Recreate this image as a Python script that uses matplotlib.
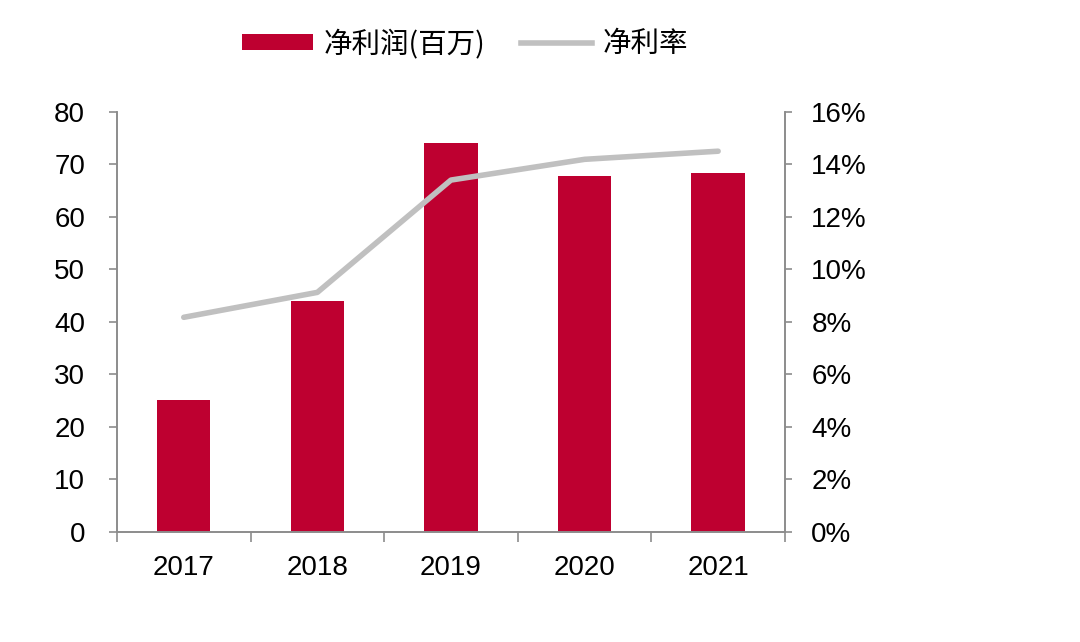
import matplotlib
matplotlib.use("Agg")
import matplotlib.pyplot as plt
from matplotlib.ticker import FuncFormatter, FixedLocator
from matplotlib.patches import Patch
from matplotlib.lines import Line2D

years = ["2017", "2018", "2019", "2020", "2021"]
net_profit = [25.1, 43.9, 74.0, 67.8, 68.4]
net_margin = [8.17, 9.12, 13.4, 14.19, 14.5]
left_ticks = [0, 10, 20, 30, 40, 50, 60, 70, 80]
right_ticks = [0, 2, 4, 6, 8, 10, 12, 14, 16]

bar_color = "#be0030"
line_color = "#c0c0c0"
axis_color = "#8c8c8c"

plt.rcParams['font.family'] = ['Liberation Sans', 'DejaVu Sans']

fig = plt.figure(figsize=(10.8, 6.42), dpi=100)
ax = fig.add_axes([0.1083, 0.1718, 0.6185, 0.654])
ax2 = ax.twinx()

x = list(range(len(years)))
ax.bar(x, net_profit, width=0.4, color=bar_color, zorder=2)
ax2.plot(x, net_margin, color=line_color, lw=4, solid_capstyle='round', zorder=3)

ax.set_xlim(-0.5, len(years) - 0.5)
ax.set_ylim(0, 80)
ax2.set_ylim(0, 16)
ax.set_yticks(left_ticks)
ax2.set_yticks(right_ticks)
ax2.yaxis.set_major_formatter(FuncFormatter(lambda v, p: f"{int(v)}%"))

ax.xaxis.set_major_locator(FixedLocator([i - 0.5 for i in range(len(years) + 1)]))
ax.xaxis.set_major_formatter(FuncFormatter(lambda v, p: ""))
ax.xaxis.set_minor_locator(FixedLocator(x))
ax.set_xticklabels(years, minor=True)
ax.tick_params(axis='x', which='major', length=7, width=1.2, color=axis_color, direction='out')
ax.tick_params(axis='x', which='minor', length=0, pad=17, labelsize=20)

ax.tick_params(axis='y', length=6, width=1.2, color=axis_color, labelsize=20, pad=17)
ax2.tick_params(axis='y', length=5, width=1.2, color=axis_color, labelsize=20, pad=14)

for a in (ax, ax2):
    a.spines['top'].set_visible(False)
    for s in ('left', 'right', 'bottom'):
        a.spines[s].set_color(axis_color)
        a.spines[s].set_linewidth(1.2)

handles = [Patch(facecolor=bar_color, edgecolor='none'),
           Line2D([0], [0], color=line_color, lw=4)]
labels = ["净利润(百万)", "净利率"]
fig.legend(handles, labels, loc='center', bbox_to_anchor=(0.4306, 0.931), ncol=2,
           frameon=False, handlelength=2.49, handleheight=0.5, handletextpad=0.39,
           columnspacing=1.23,
           prop={'family': ['Noto Sans CJK SC', 'DejaVu Sans'], 'size': 20.5})

fig.savefig("out.png", dpi=100)
